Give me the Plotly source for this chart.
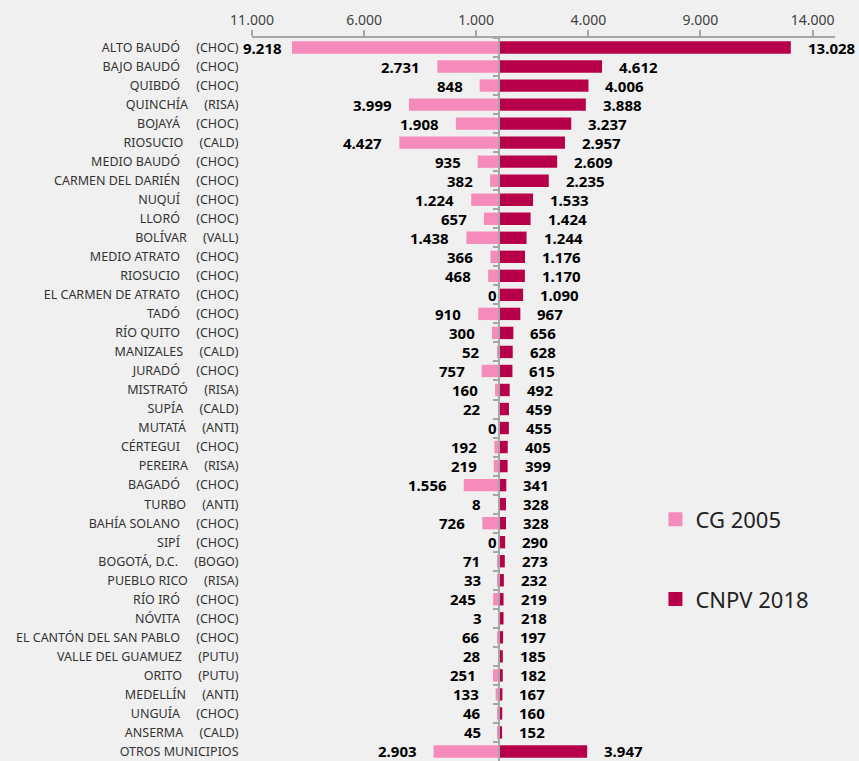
import plotly.graph_objects as go

names = ["ALTO BAUDÓ", "BAJO BAUDÓ", "QUIBDÓ", "QUINCHÍA", "BOJAYÁ", "RIOSUCIO",
         "MEDIO BAUDÓ", "CARMEN DEL DARIÉN", "NUQUÍ", "LLORÓ", "BOLÍVAR", "MEDIO ATRATO",
         "RIOSUCIO", "EL CARMEN DE ATRATO", "TADÓ", "RÍO QUITO", "MANIZALES", "JURADÓ",
         "MISTRATÓ", "SUPÍA", "MUTATÁ", "CÉRTEGUI", "PEREIRA", "BAGADÓ", "TURBO",
         "BAHÍA SOLANO", "SIPÍ", "BOGOTÁ, D.C.", "PUEBLO RICO", "RÍO IRÓ", "NÓVITA",
         "EL CANTÓN DEL SAN PABLO", "VALLE DEL GUAMUEZ", "ORITO", "MEDELLÍN", "UNGUÍA",
         "ANSERMA", "OTROS MUNICIPIOS"]
depts = ["CHOC", "CHOC", "CHOC", "RISA", "CHOC", "CALD", "CHOC", "CHOC", "CHOC", "CHOC",
         "VALL", "CHOC", "CHOC", "CHOC", "CHOC", "CHOC", "CALD", "CHOC", "RISA", "CALD",
         "ANTI", "CHOC", "RISA", "CHOC", "ANTI", "CHOC", "CHOC", "BOGO", "RISA", "CHOC",
         "CHOC", "CHOC", "PUTU", "PUTU", "ANTI", "CHOC", "CALD", ""]
cg2005 = [9218, 2731, 848, 3999, 1908, 4427, 935, 382, 1224, 657, 1438, 366, 468, 0, 910,
          300, 52, 757, 160, 22, 0, 192, 219, 1556, 8, 726, 0, 71, 33, 245, 3, 66, 28, 251,
          133, 46, 45, 2903]
cnpv2018 = [13028, 4612, 4006, 3888, 3237, 2957, 2609, 2235, 1533, 1424, 1244, 1176, 1170,
            1090, 967, 656, 628, 615, 492, 459, 455, 405, 399, 341, 328, 328, 290, 273, 232,
            219, 218, 197, 185, 182, 167, 160, 152, 3947]
tick_vals = [-11000, -6000, -1000, 4000, 9000, 14000]

def fmt(v):
    return f"{abs(v):,}".replace(",", ".")

labels = [n + ("\u00a0" * 5 + "(" + d + ")" if d else "") for n, d in zip(names, depts)]
neg2005 = [-v for v in cg2005]

PINK = "#F48BBA"
DARK = "#B8004A"
GRAY = "#A6A6A6"
BG = "#F0F0F0"
FONT = "Noto Sans"
VSIZE = 15

XMIN, XMAX = -11000, 15000
L, R, T, B = 252, 24, 38, 0
W, H = 859, 761
pxu = (W - L - R) / (XMAX - XMIN)

fig = go.Figure()
fig.add_trace(go.Bar(x=neg2005, y=labels, orientation="h", name="CG 2005",
                     marker=dict(color=PINK, line=dict(width=0)),
                     yaxis="y", showlegend=False, hoverinfo="skip"))
fig.add_trace(go.Bar(x=cnpv2018, y=labels, orientation="h", name="CNPV 2018",
                     marker=dict(color=DARK, line=dict(width=0)),
                     yaxis="y2", showlegend=False, hoverinfo="skip"))
# legend entries (square keys)
fig.add_trace(go.Scatter(x=[None], y=[None], mode="markers", name="CG 2005",
                         marker=dict(symbol="square", size=14, color=PINK),
                         yaxis="y2", legendgroup="a", hoverinfo="skip"))
fig.add_trace(go.Scatter(x=[None], y=[None], mode="markers", name="CNPV 2018",
                         marker=dict(symbol="square", size=14, color=DARK),
                         yaxis="y2", legendgroup="b", hoverinfo="skip"))

anns = []
for lab, v in zip(labels, cg2005):
    txt = fmt(v)
    off = (-v - XMIN) * pxu
    w = sum(4.0 if c == "." else 8.6 for c in txt)
    gap = 16 if v > 0 else 1
    desired = max(off - gap, -7 + w)
    anns.append(dict(x=-v, y=lab, yref="y", xref="x", text=f"<b>{txt}</b>",
                     showarrow=False, xanchor="right", yanchor="middle", borderpad=0,
                     xshift=desired - off, font=dict(size=VSIZE, color="#000000", family=FONT)))
for lab, v in zip(labels, cnpv2018):
    anns.append(dict(x=v, y=lab, yref="y2", xref="x", text=f"<b>{fmt(v)}</b>",
                     showarrow=False, xanchor="left", yanchor="middle", xshift=16, borderpad=0,
                     font=dict(size=VSIZE, color="#000000", family=FONT)))

yr = [len(labels) - 0.5, -0.5]
fig.update_layout(
    width=W, height=H, margin=dict(l=L, r=R, t=T, b=B),
    paper_bgcolor=BG, plot_bgcolor=BG,
    font=dict(family=FONT, color="#333333"),
    bargap=0.35, showlegend=True,
    xaxis=dict(side="top", range=[XMIN, XMAX], tickvals=tick_vals,
               ticktext=[fmt(v) for v in tick_vals], showline=True, linecolor=GRAY,
               linewidth=1.5, ticks="outside", ticklen=6, tickcolor=GRAY, tickwidth=1.5,
               showgrid=False, zeroline=False, tickfont=dict(size=14, color="#404040")),
    yaxis=dict(type="category", categoryorder="array", categoryarray=labels, range=yr,
               anchor="free", position=(0 - XMIN) / (XMAX - XMIN), showline=True,
               linecolor=GRAY, linewidth=1.5, ticks="outside", tickson="boundaries",
               ticklen=5, tickcolor=GRAY, tickwidth=1.5, showticklabels=False,
               showgrid=False, zeroline=False),
    yaxis2=dict(type="category", categoryorder="array", categoryarray=labels, range=yr,
                overlaying="y", anchor="free", position=0, side="left", showline=False,
                ticks="outside", ticklen=11, tickcolor="rgba(0,0,0,0)", showgrid=False,
                zeroline=False, tickfont=dict(size=12.5, color="#333333")),
    legend=dict(x=0.692, y=0.363, xanchor="left", yanchor="top", tracegroupgap=48,
                font=dict(size=22, color="#222222"), bgcolor="rgba(0,0,0,0)",
                traceorder="grouped"),
    annotations=anns,
)

fig.write_html("out.html", config={"displayModeBar": False},
               post_script="document.body.style.margin='0';"
                           "document.body.style.background='#F0F0F0';")
